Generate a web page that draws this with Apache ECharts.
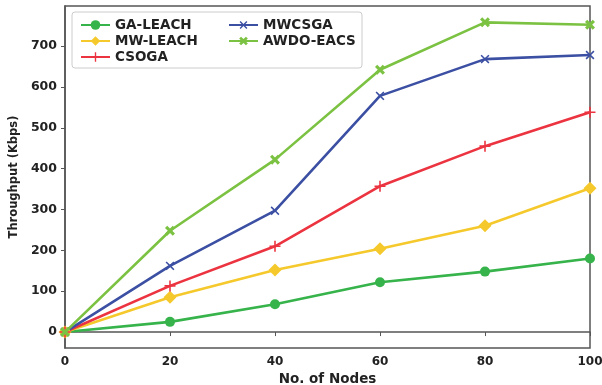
<!DOCTYPE html>
<html>
<head>
<meta charset="utf-8">
<script src="https://cdn.jsdelivr.net/npm/echarts@6/dist/echarts.min.js"></script>
<style>
html, body { margin: 0; padding: 0; background: #fff; }
#chart { width: 602px; height: 385px; }
</style>
</head>
<body>
<div id="chart"></div>
<script>
// 节点数
var nodes = [0, 20, 40, 60, 80, 100];
// 各算法吞吐量 (Kbps)
var gaLeach = [0, 25, 68, 122, 148, 180];
var mwLeach = [0, 85, 152, 204, 260, 352];
var csoga = [0, 113, 210, 357, 455, 538];
var mwcsga = [0, 162, 297, 578, 668, 678];
var awdoEacs = [0, 248, 422, 642, 758, 752];
var yTicks = [0, 100, 200, 300, 400, 500, 600, 700];

var plusPath = 'path://M-1,-7L1,-7L1,-1L7,-1L7,1L1,1L1,7L-1,7L-1,1L-7,1L-7,-1L-1,-1Z';
var bigXPath = 'path://M-2,-7L2,-7L2,-2L7,-2L7,2L2,2L2,7L-2,7L-2,2L-7,2L-7,-2L-2,-2Z';

function pairs(vals) {
	var out = [];
	for (var i = 0; i < nodes.length; i++) {
		out.push([nodes[i], vals[i]]);
	}
	return out;
}

function mkSeries(name, vals, color, symbol, size, rotate) {
	return {
		name: name,
		type: 'line',
		data: pairs(vals),
		symbol: symbol,
		symbolSize: size,
		symbolRotate: rotate || 0,
		showAllSymbol: true,
		clip: true,
		lineStyle: { color: color, width: 2.6 },
		itemStyle: { color: color, borderWidth: 0 },
		emphasis: { disabled: true },
		z: 3
	};
}

var boldText = { fontFamily: 'DejaVu Sans', fontWeight: 'bold', fontSize: 12, color: '#222' };

var option = {
	animation: false,
	backgroundColor: '#fff',
	grid: {
		left: 65, right: 12, top: 6, bottom: 37,
		outerBoundsMode: 'none',
		containLabel: false,
		show: true, borderColor: '#555', borderWidth: 1.5
	},
	legend: [{
		left: 75, top: 13,
		orient: 'vertical',
		itemWidth: 29, itemHeight: 12, itemGap: 2,
		textStyle: { fontFamily: 'DejaVu Sans', fontWeight: 'bold', fontSize: 13.5, color: '#222' },
		data: ['GA-LEACH', 'MW-LEACH', 'CSOGA']
	}, {
		left: 223, top: 13,
		orient: 'vertical',
		itemWidth: 29, itemHeight: 12, itemGap: 2,
		textStyle: { fontFamily: 'DejaVu Sans', fontWeight: 'bold', fontSize: 13.5, color: '#222' },
		data: ['MWCSGA', 'AWDO-EACS']
	}],
	graphic: [{
		type: 'rect',
		shape: { x: 72, y: 12, width: 290, height: 56, r: 3 },
		style: { fill: 'rgba(255,255,255,0.85)', stroke: '#ccc', lineWidth: 1 },
		z: 1
	}],
	xAxis: {
		type: 'value',
		min: 0, max: 100, interval: 20,
		name: 'No. of Nodes',
		nameLocation: 'middle',
		nameGap: 21,
		nameTextStyle: { fontFamily: 'DejaVu Sans', fontWeight: 'bold', fontSize: 13.5, color: '#222' },
		axisLine: { show: true, lineStyle: { color: '#555', width: 1.5 } },
		axisTick: { show: true, length: 4, lineStyle: { color: '#555' } },
		axisLabel: boldText,
		splitLine: { show: false }
	},
	yAxis: {
		type: 'value',
		min: -39, max: 798,
		name: 'Throughput (Kbps)',
		nameLocation: 'middle',
		nameGap: 45,
		nameTextStyle: { fontFamily: 'DejaVu Sans', fontWeight: 'bold', fontSize: 11.5, color: '#222' },
		axisLine: { show: true, lineStyle: { color: '#555', width: 1.5 } },
		axisTick: { show: true, length: 4, lineStyle: { color: '#555' }, customValues: yTicks },
		axisLabel: { fontFamily: 'DejaVu Sans', fontWeight: 'bold', fontSize: 12.5, color: '#222', customValues: yTicks },
		splitLine: { show: false }
	},
	series: [
		mkSeries('GA-LEACH', gaLeach, '#36b34a', 'circle', 10),
		mkSeries('MW-LEACH', mwLeach, '#f5c92c', 'diamond', 13),
		mkSeries('CSOGA', csoga, '#ec3340', plusPath, 11),
		mkSeries('MWCSGA', mwcsga, '#3b4fa3', plusPath, 11, 45),
		mkSeries('AWDO-EACS', awdoEacs, '#7cc242', bigXPath, 11, 45)
	]
};

var myChart = echarts.init(document.getElementById('chart'));
myChart.setOption(option);
</script>
</body>
</html>
